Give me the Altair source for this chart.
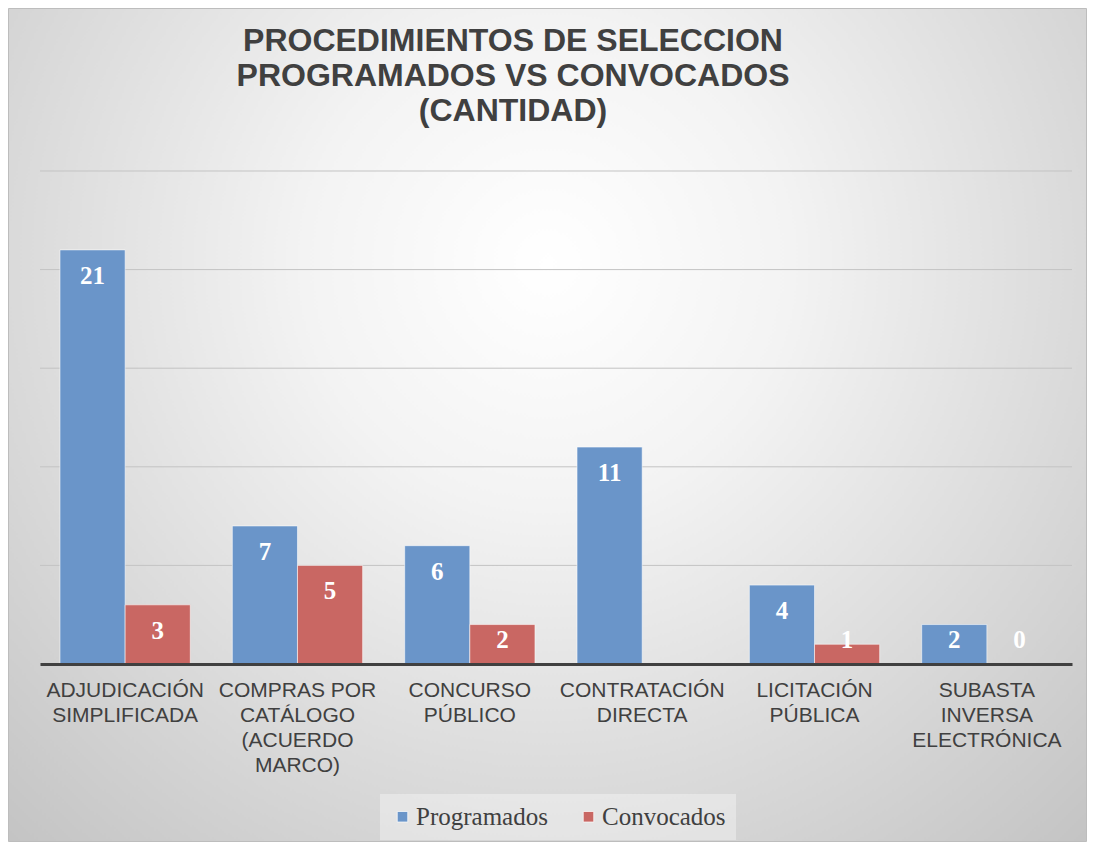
import altair as alt
import pandas as pd

# ---- data ----
categories = [
    "ADJUDICACIÓN|SIMPLIFICADA",
    "COMPRAS POR|CATÁLOGO|(ACUERDO|MARCO)",
    "CONCURSO|PÚBLICO",
    "CONTRATACIÓN|DIRECTA",
    "LICITACIÓN|PÚBLICA",
    "SUBASTA|INVERSA|ELECTRÓNICA",
]
programados = [21, 7, 6, 11, 4, 2]
convocados = [3, 5, 2, None, 1, 0]
series = ["Programados", "Convocados"]
colors = ["#6A95C9", "#C96763"]
grid_values = [0, 5, 10, 15, 20, 25]
title_lines = ["PROCEDIMIENTOS DE SELECCION", "PROGRAMADOS VS CONVOCADOS", "(CANTIDAD)"]

rows = []
for c, p, v in zip(categories, programados, convocados):
    rows.append({"cat": c, "series": "Programados", "value": p})
    if v is not None:
        rows.append({"cat": c, "series": "Convocados", "value": v})
df = pd.DataFrame(rows)

W, H = 1032, 493
PAD = {"left": 32, "top": 163, "right": 15, "bottom": 178}

yscale = alt.Scale(domain=[0, 25], nice=False, zero=True)
xscale = alt.Scale(domain=categories, paddingInner=0.244, paddingOuter=0.116)

bg = alt.Chart(pd.DataFrame({"bg": [0]})).mark_rect(
    color=alt.Gradient(
        gradient="radial",
        stops=[
            alt.GradientStop(color="#FFFFFF", offset=0),
            alt.GradientStop(color="#F3F3F3", offset=0.3),
            alt.GradientStop(color="#C2C2C2", offset=1),
        ],
        x1=0.5, y1=0.35, x2=0.5, y2=0.35, r1=0, r2=0.75,
    ),
    stroke="#BDBDBD",
    strokeWidth=1,
).encode(
    x=alt.value(-PAD["left"] + 0.5),
    x2=alt.value(W + PAD["right"] - 0.5),
    y=alt.value(-PAD["top"] + 0.5),
    y2=alt.value(H + PAD["bottom"] - 0.5),
)

grid = alt.Chart(pd.DataFrame({"g": grid_values})).mark_rule(
    color="#C3C3C3", strokeWidth=1
).encode(
    y=alt.Y("g:Q", scale=yscale, axis=None),
    x=alt.value(0),
    x2=alt.value(W),
)

base = alt.Chart(df)

bars = base.mark_bar(stroke="rgba(255,255,255,0.55)", strokeWidth=1).encode(
    x=alt.X(
        "cat:N",
        scale=xscale,
        sort=categories,
        axis=alt.Axis(
            title=None,
            labelExpr="split(datum.label, '|')",
            labelAngle=0,
            labelFont="Liberation Sans",
            labelFontSize=21,
            labelColor="#404040",
            labelLineHeight=25,
            labelPadding=15,
            labelLimit=300,
            ticks=False,
            domainColor="#404040",
            domainWidth=3,
            zindex=1,
        ),
    ),
    xOffset=alt.XOffset("series:N", sort=series, scale=alt.Scale(domain=series, paddingInner=0, paddingOuter=0)),
    y=alt.Y("value:Q", scale=yscale, axis=None),
    color=alt.Color(
        "series:N",
        scale=alt.Scale(domain=series, range=colors),
        sort=series,
        legend=alt.Legend(
            title=None,
            orient="none",
            direction="horizontal",
            legendX=340,
            legendY=623,
            padding=10,
            fillColor="rgba(255,255,255,0.35)",
            symbolType="square",
            symbolSize=110,
            symbolStrokeColor="rgba(255,255,255,0.7)",
            symbolStrokeWidth=1,
            labelFont="Liberation Serif",
            labelFontSize=25,
            labelColor="#404040",
            labelOffset=1,
            columnPadding=28,
        ),
    ),
)

labels = base.transform_calculate(
    ly="max(datum.value - 1.32, 1.22)"
).mark_text(
    font="Liberation Serif",
    fontSize=25,
    fontWeight="bold",
    color="white",
    baseline="middle",
    align="center",
).encode(
    x=alt.X("cat:N", scale=xscale, sort=categories),
    xOffset=alt.XOffset("series:N", sort=series),
    y=alt.Y("ly:Q", scale=yscale, axis=None),
    text=alt.Text("value:Q"),
)

chart = alt.layer(bg, grid, bars, labels).properties(
    width=W,
    height=H,
    autosize=alt.AutoSizeParams(type="none"),
    padding=PAD,
    title=alt.TitleParams(
        text=title_lines,
        font="Liberation Sans",
        fontSize=32,
        fontWeight="bold",
        color="#404040",
        lineHeight=35,
        anchor="middle",
        dx=-43,
        dy=165,
        offset=45,
    ),
).configure_view(stroke=None)

chart.save("out.html", embed_options={"renderer": "svg", "actions": False})
